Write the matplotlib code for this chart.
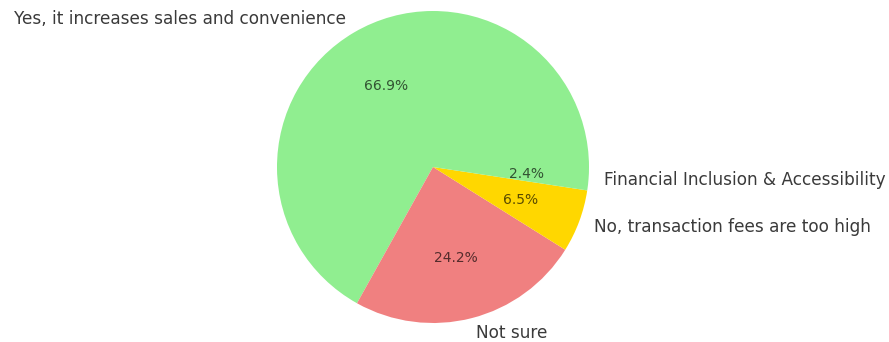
#!/usr/bin/env python3
# -*- coding: utf-8 -*-
'''
Pie chart of survey answers about accepting digital payments
'''
import matplotlib.pyplot as plt

labels = ['Yes, it increases sales and convenience',
          'Not sure',
          'No, transaction fees are too high',
          'Financial Inclusion & Accessibility']
shares = [66.9, 24.2, 6.5, 2.4]
colors = ['lightgreen', 'lightcoral', 'gold']    # only three colours, they cycle

fig = plt.figure(figsize=(8.89, 3.42), dpi=100)
ax = fig.add_axes([0, 0, 1, 1])

wedges, texts, autotexts = ax.pie(shares, labels=labels, colors=colors,
                                  autopct='%1.1f%%', startangle=0,
                                  textprops={'fontsize': 12.2, 'color': '#3a3a3a'})
for t in autotexts:
    t.set_fontsize(10)
    t.set_color('black')
    t.set_alpha(0.65)

# place the pie: radius 156 px, centre at (433, 167) px from the top-left
r = 156.0
ax.set_xlim(-433 / r, (889 - 433) / r)
ax.set_ylim(-(342 - 167) / r, 167 / r)
ax.set_aspect('auto')

plt.savefig('out.png', dpi=100)
